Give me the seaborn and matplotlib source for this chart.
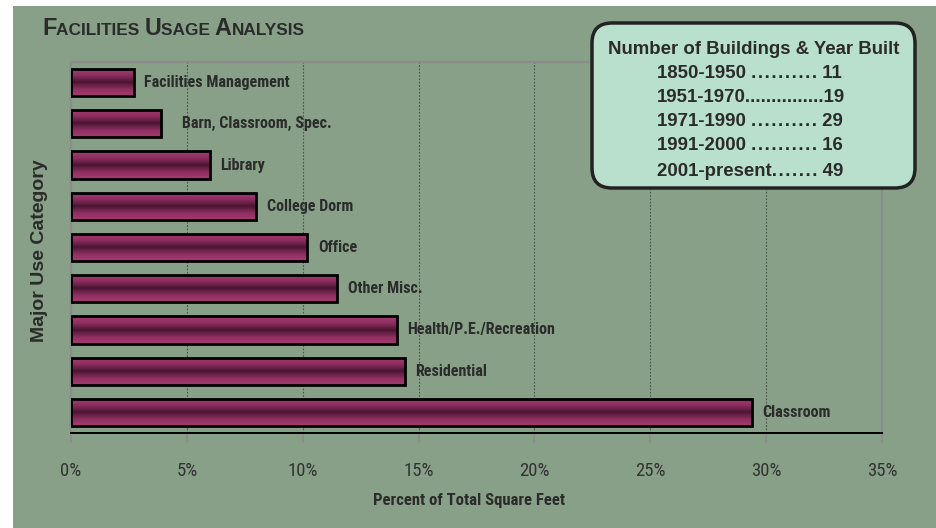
import numpy as np
import matplotlib
matplotlib.use("Agg")
import matplotlib.pyplot as plt
import seaborn as sns
from matplotlib.patches import Rectangle, FancyBboxPatch
from matplotlib.colors import LinearSegmentedColormap
from matplotlib.transforms import IdentityTransform
from matplotlib.ticker import FuncFormatter

# ---- data -------------------------------------------------------------
categories = [
    "Facilities Management",
    "Barn, Classroom, Spec.",
    "Library",
    "College Dorm",
    "Office",
    "Other Misc.",
    "Health/P.E./Recreation",
    "Residential",
    "Classroom",
]
share_pct = [2.7, 3.9, 6.0, 8.0, 10.2, 11.5, 14.05, 14.4, 29.4]
x_ticks = [0, 5, 10, 15, 20, 25, 30, 35]

period_labels = ["1850-1950", "1951-1970", "1971-1990", "1991-2000", "2001-present"]
building_counts = [11, 19, 29, 16, 49]

# ---- style ------------------------------------------------------------
W, H = 936, 528
PANEL = "#87A087"
INK = "#2B2B2B"
NARROW = ["Roboto Condensed", "Liberation Sans", "DejaVu Sans"]
WIDE = ["Liberation Sans", "DejaVu Sans"]

sns.set_theme(style="white")
plt.rcParams["font.family"] = WIDE

fig = plt.figure(figsize=(W / 100, H / 100), dpi=100, facecolor="white")
fig.patches.append(Rectangle((13 / W, 0), 1 - 13 / W, 1 - 6 / H,
                             transform=fig.transFigure, facecolor=PANEL,
                             edgecolor="none", zorder=-5))

ax = fig.add_axes([71 / W, 1 - 433 / H, (882 - 71) / W, (433 - 62) / H])
ax.set_facecolor("none")
ax.set_zorder(1)

sns.barplot(x=share_pct, y=categories, orient="h", width=0.66,
            color="#7A2652", ax=ax, zorder=3)

# vertical gradient inside every bar, dark in the middle, light at the edges
bar_cmap = LinearSegmentedColormap.from_list(
    "bar", ["#A83C72", "#8E2E60", "#4A1632", "#8E2E60", "#A83C72"])
grad = np.linspace(0, 1, 256).reshape(-1, 1)
for patch in ax.patches:
    x0, y0 = patch.get_x(), patch.get_y()
    w, h = patch.get_width(), patch.get_height()
    im = ax.imshow(grad, cmap=bar_cmap, aspect="auto", interpolation="bilinear",
                   extent=[x0, x0 + w, y0 + h, y0], zorder=2)
    im.set_clip_path(patch)
    patch.set_facecolor("none")
    patch.set_edgecolor("black")
    patch.set_linewidth(2)
    patch.set_zorder(3)

ax.set_xlim(0, 35)
ax.set_ylim(len(categories) - 0.5, -0.5)

# value-end labels
extra_gap = {"Barn, Classroom, Spec.": 10}
for i, (cat, val) in enumerate(zip(categories, share_pct)):
    ax.annotate(cat, xy=(val, i), xytext=(7.5 + 0.72 * extra_gap.get(cat, 0), 0),
                textcoords="offset points", ha="left", va="center",
                fontsize=11.5, fontweight="bold", color=INK, family=NARROW,
                zorder=4)

# grid, spines, ticks
ax.set_xticks(x_ticks)
ax.xaxis.set_major_formatter(FuncFormatter(lambda v, _: f"{v:.0f}%"))
for v in x_ticks[1:-1]:
    ax.axvline(v, color="#4A564A", lw=0.8, ls=(0, (1.5, 1.5)), zorder=1)

ax.set_yticks([])
ax.set_ylabel("")
for side in ("top", "right", "left"):
    ax.spines[side].set_color("#8C8C8C")
    ax.spines[side].set_linewidth(1.6)
    ax.spines[side].set_visible(True)
ax.spines["bottom"].set_color("black")
ax.spines["bottom"].set_linewidth(1.4)
ax.spines["bottom"].set_visible(True)

ax.tick_params(axis="x", bottom=True, length=7, width=1.2, color="#8C8C8C",
               pad=14, labelsize=13.5, labelcolor="#333333")
for lbl in ax.get_xticklabels():
    lbl.set_family(NARROW)

ax.set_xlabel("Percent of Total Square Feet", fontsize=12, fontweight="bold",
              color=INK, family=NARROW)
ax.xaxis.set_label_coords((469 - 71) / (882 - 71), -(500 - 433) / (433 - 62))
ax.xaxis.label.set_va("center")

fig.text(40 / W, 1 - 251 / H, "Major Use Category", rotation=90,
         ha="center", va="center", fontsize=14, fontweight="bold",
         color=INK, family=WIDE)

# small-caps heading
title_parts = [("F", 16.8), ("ACILITIES ", 12.4), ("U", 16.8), ("SAGE ", 12.4),
               ("A", 16.8), ("NALYSIS", 12.4)]
renderer = fig.canvas.get_renderer()
tx = 42
for txt, size in title_parts:
    t = fig.text(tx / W, 1 - 35 / H, txt, fontsize=size, fontweight="bold",
                 color=INK, family=WIDE, ha="left", va="baseline")
    tx += t.get_window_extent(renderer=renderer).width

# rounded info box, drawn above the plot area
box = FancyBboxPatch((592, H - 188), 915 - 592, 188 - 23,
                     boxstyle="round,pad=0,rounding_size=20",
                     transform=IdentityTransform(), facecolor="#B9DFCD",
                     edgecolor="#222222", linewidth=2.5, zorder=5)
fig.patches.append(box)
fig.text(754 / W, 1 - 50 / H, "Number of Buildings & Year Built",
         ha="center", va="center", fontsize=13.4, fontweight="bold",
         color=INK, family=WIDE, zorder=6)

hair = "\u200a"
leaders = [
    " " + hair.join("." * 10) + " ",
    "." * 15,
    " " + hair.join("." * 10) + " ",
    " " + hair.join("." * 10) + " ",
    hair.join("." * 7) + " ",
]
row_y = [74, 97, 122, 146, 171]
for label, dots, count, y in zip(period_labels, leaders, building_counts, row_y):
    fig.text(657 / W, 1 - y / H, f"{label}{dots}{count}", ha="left",
             va="center", fontsize=13.4, fontweight="bold", color=INK,
             family=WIDE, zorder=6)

fig.savefig("out.png", dpi=100, facecolor=fig.get_facecolor())
